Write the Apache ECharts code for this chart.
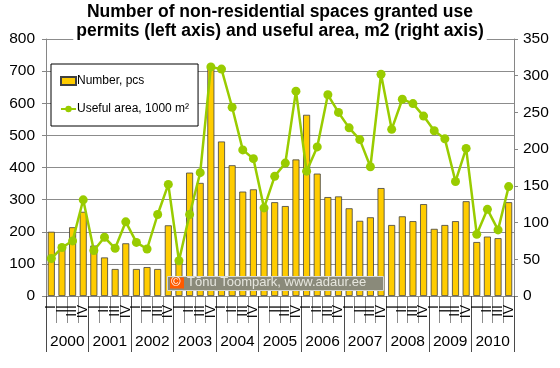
<!DOCTYPE html>
<html><head><meta charset="utf-8">
<script src="https://cdn.jsdelivr.net/npm/echarts@6/dist/echarts.min.js"></script>
<style>html,body{margin:0;padding:0;background:#fff}#c{width:560px;height:368px}</style>
</head><body><div id="c"></div>
<script>
const years = ['2000','2001','2002','2003','2004','2005','2006','2007','2008','2009','2010'];
const quarterLabels = ['I','II','III','IV'];
const numberPcs = [200,160,214,262, 157,120,84,164, 84,90,84,220, 105,384,352,709, 481,407,325,332, 276,292,280,425, 564,381,308,310, 273,234,245,336, 221,248,233,286, 209,221,233,295, 168,185,180,292];
const usefulArea = [51,66,75,131, 62,80,65,101, 73,64,111,152, 48,111,168,312, 309,257,199,187, 120,163,181,279, 170,203,274,250, 229,213,176,302, 227,268,262,245, 225,214,156,201, 84,118,90,149];
const leftTicks = {min:0, max:800, interval:100};
const rightTicks = {min:0, max:350, interval:50};

const categories = [];
years.forEach(y => quarterLabels.forEach(q => categories.push(y + ' ' + q)));

const font = 'Arial, "Liberation Sans", sans-serif';
const chart = echarts.init(document.getElementById('c'), null, {renderer:'canvas'});
const G = {left:46, right:46, top:39, bottom:72};
chart.setOption({
  animation:false,
  title:{
    text:'Number of non-residential spaces granted use\npermits (left axis) and useful area, m2 (right axis)',
    left:'center', top:3, padding:[0,3], backgroundColor:'#fff',
    textStyle:{fontFamily:font, fontSize:17.5, fontWeight:'bold', color:'#000', lineHeight:19}
  },
  grid:[Object.assign({}, G), Object.assign({}, G)],
  legend:{
    orient:'vertical', left:51, top:64, padding:[11,9,11,9], itemGap:16,
    backgroundColor:'#fff', borderColor:'#000', borderWidth:1, borderRadius:0,
    itemWidth:15, itemHeight:8,
    textStyle:{fontFamily:font, fontSize:12, color:'#000', padding:[0,0,0,-4]},
    data:[{name:'Number, pcs', icon:'rect'}, {name:'Useful area, 1000 m²'}]
  },
  xAxis:[
    {type:'category', gridIndex:0, data:categories, position:'bottom',
     axisLine:{lineStyle:{color:'#868686'}},
     axisTick:{show:true, interval:0, length:27, lineStyle:{color:'#8c8c8c', width:1}},
     axisLabel:{interval:0, rotate:90, formatter:v=>v.split(' ')[1], fontFamily:font, fontSize:14, color:'#000', margin:9},
     splitLine:{show:false}},
    {type:'category', gridIndex:1, data:years, position:'bottom',
     axisLine:{show:false},
     axisTick:{show:true, interval:0, length:56, lineStyle:{color:'#4a4a4a', width:1}},
     axisLabel:{interval:0, fontFamily:font, fontSize:15.5, color:'#000', margin:38},
     splitLine:{show:false}}
  ],
  yAxis:[
    {type:'value', gridIndex:0, position:'left', min:leftTicks.min, max:leftTicks.max, interval:leftTicks.interval,
     axisLine:{show:true, lineStyle:{color:'#868686'}},
     axisTick:{show:true, length:4, lineStyle:{color:'#868686'}},
     axisLabel:{fontFamily:font, fontSize:15.5, color:'#000', margin:11},
     splitLine:{lineStyle:{color:'#8c8c8c', width:1}}},
    {type:'value', gridIndex:0, position:'right', min:rightTicks.min, max:rightTicks.max, interval:rightTicks.interval,
     axisLine:{show:true, lineStyle:{color:'#868686'}},
     axisTick:{show:true, length:4, lineStyle:{color:'#868686'}},
     axisLabel:{fontFamily:font, fontSize:15.5, color:'#000', margin:9},
     splitLine:{show:false}},
    {type:'value', gridIndex:1, show:false}
  ],
  series:[
    {name:'Number, pcs', type:'bar', xAxisIndex:0, yAxisIndex:0, data:numberPcs, barWidth:7,
     itemStyle:{color:'#FFCC00', borderColor:'#404040', borderWidth:0.8}},
    {name:'Useful area, 1000 m²', type:'line', xAxisIndex:0, yAxisIndex:1, data:usefulArea, z:5,
     symbol:'circle', symbolSize:9,
     lineStyle:{color:'#99CC00', width:2.5}, itemStyle:{color:'#99CC00'}}
  ],
  graphic:[
    {type:'rect', z:100, left:167, top:276, shape:{width:216, height:14}, style:{fill:'#8a8a7a', stroke:'#d8d8d0', lineWidth:1}},
    {type:'rect', z:101, left:170, top:277.5, shape:{width:14, height:11}, style:{fill:'#ff5a00'}},
    {type:'text', z:102, left:171, top:276, style:{text:'©', fill:'#fff', font:'13px Arial, "Liberation Sans", sans-serif'}},
    {type:'text', z:102, left:187, top:276, style:{text:'Tõnu Toompark, www.adaur.ee', fill:'#e6e6de', font:'13px Arial, "Liberation Sans", sans-serif'}}
  ]
});
</script></body></html>
